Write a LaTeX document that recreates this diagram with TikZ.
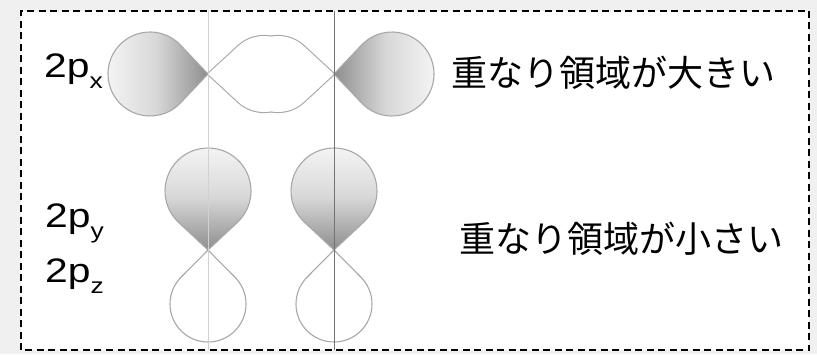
\documentclass[tikz,border=0pt]{standalone}
\usepackage{graphicx}
\usepackage{fontspec}
\setmainfont{Liberation Sans}
\newfontfamily\jpfont{Noto Sans CJK JP}
\usetikzlibrary{calc}

\definecolor{pagebg}{HTML}{F0F0F0}
\definecolor{lobeedge}{HTML}{A8A8A8}
\definecolor{lobelight}{HTML}{F6F6F6}
\definecolor{lobemid}{HTML}{D8D8D8}
\definecolor{lobedark}{HTML}{8E8E8E}

\tikzset{
  frame/.style={draw=black, line width=1.2pt, dash pattern=on 7pt off 4.5pt, fill=white},
  edgeline/.style={draw=lobeedge, line width=1.1pt, line join=round},
  shadelobe/.style={edgeline, middle color=lobemid},
  orblabel/.style={font=\fontsize{34}{34}\selectfont, inner sep=0pt, anchor=base west},
  jplabel/.style={font=\jpfont\fontsize{36}{36}\selectfont, inner sep=0pt, anchor=base west},
}

% orbital label, widened
\newcommand{\wide}[1]{\scalebox{1.2}[1]{#1}}
\newcommand{\subs}[1]{\raisebox{-11pt}{\fontsize{22}{22}\selectfont #1}}

% teardrop lobe: style, tip, direction, centre distance, radius
\newcommand{\lobe}[5]{%
  \pgfmathsetmacro\lobetan{acos(#5/#4)}%
  \path[#1] (#2) -- ($(#2)+(#3:#4)+({#3+180+\lobetan}:#5)$)
    arc[start angle={#3+180+\lobetan}, delta angle={360-2*\lobetan}, radius=#5] -- cycle;}

\begin{document}
\begin{tikzpicture}[x=1pt,y=1pt]
\useasboundingbox[fill=pagebg] (0,0) rectangle (817,354);
\draw[frame] (21,4) rectangle (809,343);

% nuclei
\coordinate (tipA) at (208,280);
\coordinate (tipB) at (334,280);
\coordinate (tipC) at (208,104);
\coordinate (tipD) at (334,104);
\coordinate (axisAtop) at (208,343);
\coordinate (axisAbot) at (208,4);
\coordinate (axisBtop) at (334,343);
\coordinate (axisBbot) at (334,4);

% 2px: white lobes overlap in the middle
\lobe{draw=lobeedge, line width=2.2pt, line join=round}{tipA}{0}{56}{38}
\lobe{draw=lobeedge, line width=2.2pt, line join=round}{tipB}{180}{56}{38}
\lobe{fill=white}{tipA}{0}{56}{38}
\lobe{fill=white}{tipB}{180}{56}{38}
\lobe{shadelobe, left color=lobelight, right color=lobedark, middle color=lobemid}{tipA}{180}{58}{42}
\lobe{shadelobe, left color=lobedark, right color=lobelight, middle color=lobemid}{tipB}{0}{58}{42}

% 2py, 2pz: lobes side by side
\lobe{edgeline, fill=white}{tipC}{270}{54}{38}
\lobe{edgeline, fill=white}{tipD}{270}{54}{38}
\lobe{shadelobe, top color=lobelight, bottom color=lobedark, middle color=lobemid}{tipC}{90}{59}{43}
\lobe{shadelobe, top color=lobelight, bottom color=lobedark, middle color=lobemid}{tipD}{90}{59}{43}

% bond axes
\draw[line width=0.9pt, draw=black!18] (axisAtop) -- (axisAbot);
\draw[line width=0.9pt, draw=black!55] (axisBtop) -- (axisBbot);

\node[orblabel] (px) at (44,276) {\wide{2p\subs{x}}};
\node[orblabel] (py) at (45,127) {\wide{2p\subs{y}}};
\node[orblabel] (pz) at (45,72) {\wide{2p\subs{z}}};

\node[jplabel] (big) at (451,267) {重なり領域が大きい};
\node[jplabel] (small) at (459,102) {重なり領域が小さい};
\end{tikzpicture}
\end{document}
